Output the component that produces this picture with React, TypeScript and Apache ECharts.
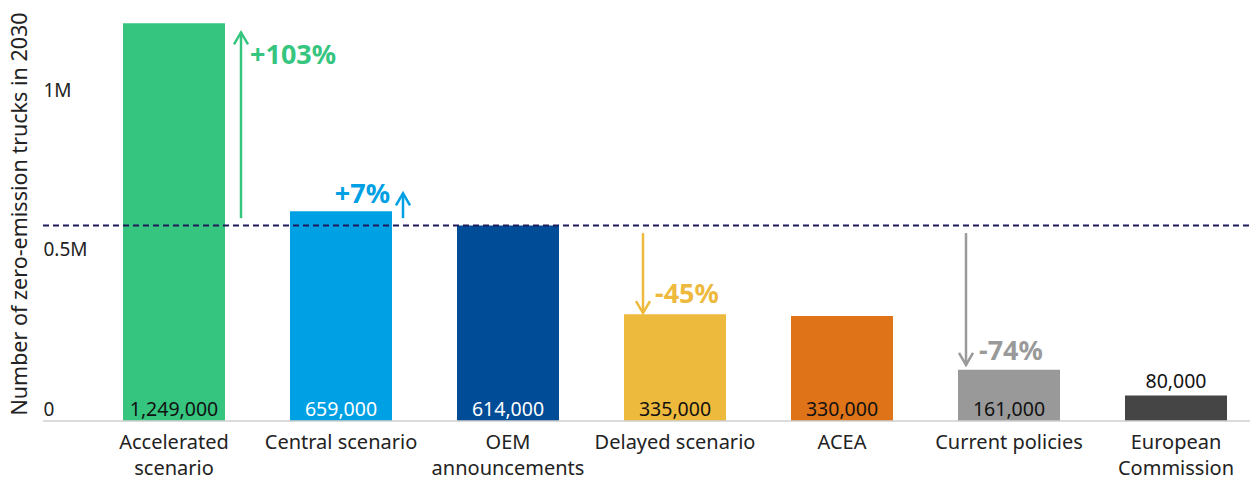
import React, { useEffect, useRef } from "react";
import * as echarts from "echarts";

const categories = [
  "Accelerated\nscenario",
  "Central scenario",
  "OEM\nannouncements",
  "Delayed scenario",
  "ACEA",
  "Current policies",
  "European\nCommission",
];
const values = [1249000, 659000, 614000, 335000, 330000, 161000, 80000];
const barColors = ["#36C57F", "#00A1E4", "#004C97", "#EDBA3D", "#DE7318", "#999999", "#454545"];
const valueLabelColors = ["#111", "#fff", "#fff", "#111", "#111", "#111", "#111"];
const referenceValue = 614000;
const yTicks = [0, 500000, 1000000];

// arrows: category index, arrow from/to values, label, label anchor value
const arrowCats = [0, 1, 3, 5];
const arrowFrom = [637000, 637000, 590000, 590000];
const arrowTo = [1220000, 715000, 339000, 176000];
const arrowLabels = ["+103%", "+7%", "-45%", "-74%"];
const arrowLabelValues = [1155000, 718000, 403000, 224000];
const arrowColors = ["#36C57F", "#00A1E4", "#EDBA3D", "#9A9A9A"];

const FONT = "'Noto Sans', sans-serif";

export default function App() {
  const ref = useRef<HTMLDivElement>(null);
  useEffect(() => {
    if (!ref.current) return;
    const chart = echarts.init(ref.current, null, { renderer: "svg" });
    const option: any = {
      animation: false,
      textStyle: { fontFamily: FONT },
      grid: {
        left: 90.5,
        right: -9.5,
        top: 7,
        bottom: 60,
        containLabel: false,
        outerBoundsMode: "none",
      },
      xAxis: {
        type: "category",
        data: categories,
        axisLine: { show: false },
        axisTick: { show: false },
        axisLabel: {
          color: "#222",
          fontSize: 20,
          fontFamily: FONT,
          margin: 7,
          lineHeight: 26.5,
          interval: 0,
        },
      },
      yAxis: {
        type: "value",
        min: 0,
        max: 1300000,
        interval: 500000,
        splitLine: { show: false },
        axisLine: { show: false },
        axisTick: { show: false },
        name: "Number of zero-emission trucks in 2030",
        nameLocation: "middle",
        nameGap: 61,
        nameTextStyle: { fontSize: 21.5, color: "#222", fontFamily: FONT },
        axisLabel: {
          margin: 47,
          align: "left",
          verticalAlign: "bottom",
          padding: [0, 0, 3, 0],
          fontSize: 19,
          color: "#222",
          fontFamily: FONT,
          formatter: (v: number) =>
            yTicks.includes(v) ? (v === 0 ? "0" : v / 1000000 + "M") : "",
        },
      },
      series: [
        {
          type: "bar",
          barWidth: 102,
          data: values.map((v, i) => ({
            value: v,
            itemStyle: { color: barColors[i] },
            label: {
              show: true,
              position: i === 6 ? "top" : "insideBottom",
              distance: i === 6 ? 5 : 3,
              color: valueLabelColors[i],
              fontSize: 19.5,
              fontFamily: FONT,
              formatter: () => v.toLocaleString("en-US"),
            },
          })),
        },
      ],
    };
    chart.setOption(option);

    const px = (cat: number, val: number) =>
      chart.convertToPixel({ gridIndex: 0 }, [cat, val]) as number[];
    const y0 = px(0, 0)[1];
    const yRef = px(0, referenceValue)[1];
    const graphics: any[] = [
      {
        type: "line",
        shape: { x1: 43, y1: y0, x2: 1250, y2: y0 },
        style: { stroke: "#cfcfcf", lineWidth: 1.5 },
        z: 10,
      },
      {
        type: "line",
        shape: { x1: 43, y1: yRef, x2: 1250, y2: yRef },
        style: { stroke: "#1E1A5A", lineWidth: 2, lineDash: [6, 4] },
        z: 10,
      },
    ];
    const offsets = [67, 62, -32, -43];
    const textGaps = [9, 13, 12, 13];
    arrowCats.forEach((c, i) => {
      const cx = px(c, 0)[0] + offsets[i];
      const ya = px(c, arrowFrom[i])[1];
      const yb = px(c, arrowTo[i])[1];
      const dir = yb < ya ? -1 : 1;
      const col = arrowColors[i];
      graphics.push({
        type: "line",
        shape: { x1: cx, y1: ya, x2: cx, y2: yb },
        style: { stroke: col, lineWidth: 2.5 },
        z: 10,
      });
      graphics.push({
        type: "polyline",
        shape: {
          points: [
            [cx - 7, yb - dir * 12],
            [cx, yb],
            [cx + 7, yb - dir * 12],
          ],
        },
        style: { stroke: col, lineWidth: 2.5, fill: null },
        z: 10,
      });
      const ty = px(c, arrowLabelValues[i])[1];
      const leftSide = i === 1;
      graphics.push({
        type: "text",
        x: leftSide ? cx - textGaps[i] : cx + textGaps[i],
        y: ty,
        style: {
          text: arrowLabels[i],
          fill: col,
          font: `bold 27px ${FONT}`,
          align: leftSide ? "right" : "left",
          verticalAlign: "middle",
        },
        z: 10,
      });
    });
    chart.setOption({ graphic: graphics });
    return () => chart.dispose();
  }, []);
  return (
    <div
      ref={ref}
      style={{ position: "fixed", left: 0, top: 0, width: 1250, height: 481, background: "#fff" }}
    />
  );
}
